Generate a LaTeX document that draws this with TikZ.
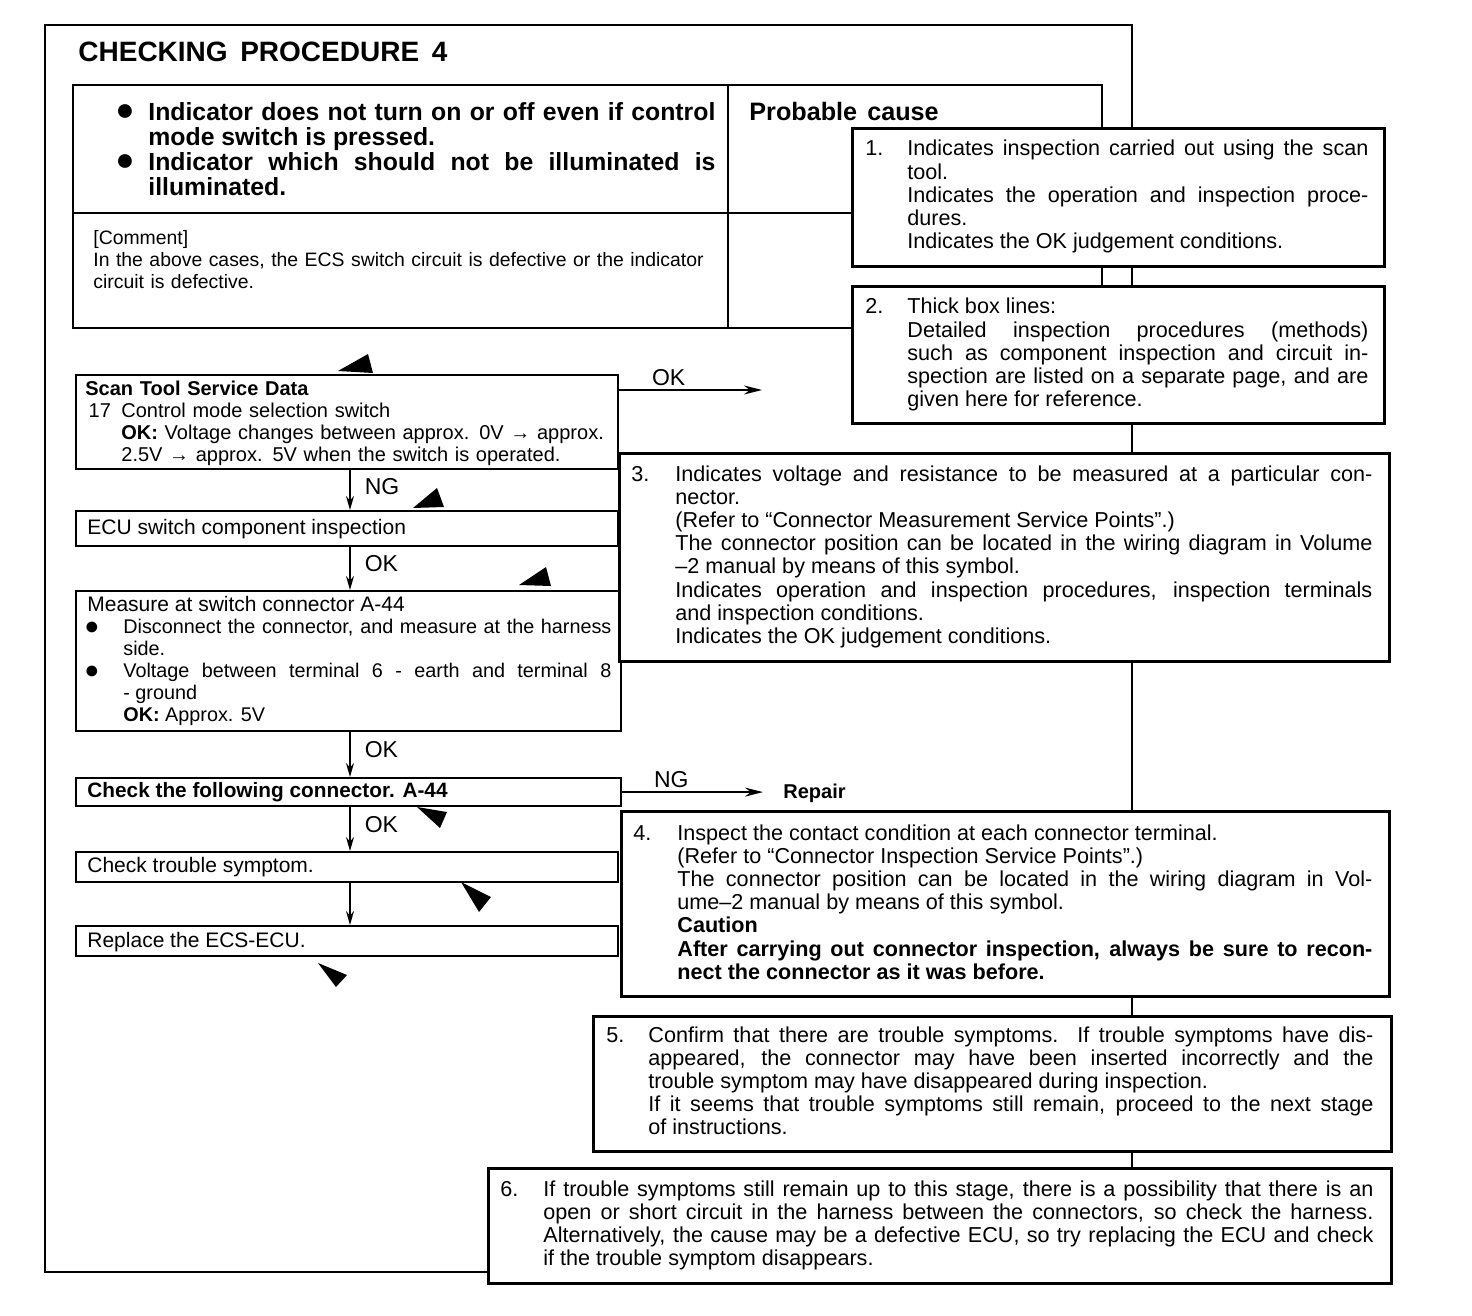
\documentclass[tikz,border=0pt]{standalone}
\usepackage{fontspec}
\setmainfont{Liberation Sans}
\usetikzlibrary{arrows.meta,positioning}
\newcommand\notefont{\fontsize{10.8}{11.6}\selectfont\tolerance=10000\relax}
\newcommand\flowfont{\fontsize{10}{11}\selectfont\tolerance=10000\relax}
\newcommand\measurefont{\fontsize{9.9}{11}\selectfont\tolerance=10000\relax}
\newcommand\symfont{\bfseries\fontsize{12.4}{12.5}\selectfont\tolerance=10000\relax}
\tikzset{
  frameline/.style={line width=1pt},
  gridline/.style={line width=1.2pt},
  flowbox/.style={draw,line width=1.1pt,fill=white,anchor=north west,inner sep=0pt},
  notebox/.style={draw,line width=1.5pt,fill=white,anchor=north west,inner sep=0pt},
  notenum/.style={anchor=base west,inner sep=0pt,font=\notefont},
  notetext/.style={anchor=base west,inner sep=0pt,align=justify,font=\notefont},
  flowtext/.style={anchor=base west,inner sep=0pt,align=left,font=\flowfont},
  onelinetext/.style={anchor=base west,inner sep=0pt,font={\fontsize{10.5}{11}\selectfont}},
  titletext/.style={anchor=base west,inner sep=0pt,font={\bfseries\fontsize{14}{14}\selectfont}},
  symtext/.style={anchor=base west,inner sep=0pt,align=justify,text width=283.5pt,font=\symfont},
  symdot/.style={inner sep=0pt,font={\fontsize{16}{16}\selectfont}},
  flowdot/.style={inner sep=0pt,font={\fontsize{12.5}{12.5}\selectfont}},
  flowarrow/.style={-{Stealth[length=7pt,width=4pt]},line width=0.8pt},
  longarrow/.style={-{Stealth[length=9pt,width=4.5pt]},line width=0.8pt},
  arrowlabel/.style={inner sep=0pt,anchor=west,xshift=7pt,font={\fontsize{11.5}{12}\selectfont}},
  pointer/.style={fill=black}
}
\begin{document}
\begin{tikzpicture}[x=0.5pt,y=-0.5pt]
\useasboundingbox (0,0) rectangle (1472,1316);
\draw[frameline] (45,25) rectangle (1132,1272);
\draw[gridline] (73,85) rectangle (1102,328);
\draw[gridline] (728,85) -- (728,328);
\draw[gridline] (73,213) -- (1102,213);
\node[titletext] (title) at (78,62) {CHECKING\hspace{0.45em}PROCEDURE\hspace{0.45em}4};
\node[symdot] (dot1) at (125,113) {●};
\node[symtext] (sym1) at (148,121) {Indicator does not turn on or off even if control\linebreak mode switch is pressed.};
\node[symdot] (dot2) at (125,163) {●};
\node[symtext] (sym2) at (148,171) {Indicator which should not be illuminated is\linebreak illuminated.};
\node[titletext,font={\bfseries\fontsize{12.6}{13}\selectfont}] (cause) at (749,121) {Probable\hspace{0.4em}cause};
\node[flowtext,text width=312pt,font={\fontsize{9.7}{11}\selectfont}] (comment) at (93,245) {[Comment]\\In the above cases, the ECS switch circuit is defective or the indicator\\circuit\ is\ defective.};

\node[flowbox,minimum width=271pt,minimum height=47pt] (scan) at (75,374) {};
\node[flowtext,text width=265pt] (scantext) at (85,395) {\textbf{Scan Tool Service Data}\\\makebox[18pt][l]{\,17}Control mode selection switch\\\hspace*{18pt}\textbf{OK:} Voltage changes between approx. 0V → approx.\\\hspace*{18pt}2.5V → approx. 5V when the switch is operated.};
\node[flowbox,minimum width=271pt,minimum height=17.5pt] (ecu) at (75,510) {};
\node[onelinetext] (ecutext) at (87,534) {ECU switch component inspection};
\node[flowbox,minimum width=272.5pt,minimum height=70pt] (measure) at (75,590) {};
\node[onelinetext] (measurehead) at (87,611) {Measure at switch connector A-44};
\node[flowdot] (dot3) at (92,628) {●};
\node[flowdot] (dot4) at (92,672) {●};
\node[flowtext,text width=244pt,align=justify,font=\measurefont] (measurebody) at (123,633) {Disconnect the connector, and measure at the harness\linebreak side.\\Voltage between terminal 6 - earth and terminal 8\linebreak - ground\\\textbf{OK:} Approx. 5V};
\node[flowbox,minimum width=272.5pt,minimum height=14pt] (conn) at (75,777) {};
\node[onelinetext,font={\bfseries\fontsize{10.4}{11}\selectfont}] (conntext) at (87,797) {Check the following connector. A-44};
\node[flowbox,minimum width=271pt,minimum height=15pt] (symptom) at (75,851) {};
\node[onelinetext] (symptomtext) at (87,872) {Check trouble symptom.};
\node[flowbox,minimum width=271pt,minimum height=15pt] (replace) at (75,925) {};
\node[onelinetext] (replacetext) at (87,947) {Replace the ECS-ECU.};

\draw[flowarrow] ([xshift=137.5pt]scan.south west) -- node[arrowlabel,pos=0.4]{NG} ([xshift=137.5pt]ecu.north west);
\draw[flowarrow] ([xshift=137.5pt]ecu.south west) -- node[arrowlabel,pos=0.38]{OK} ([xshift=137.5pt]measure.north west);
\draw[flowarrow] ([xshift=137.5pt]measure.south west) -- node[arrowlabel,pos=0.38]{OK} ([xshift=137.5pt]conn.north west);
\draw[flowarrow] ([xshift=137.5pt]conn.south west) -- node[arrowlabel,pos=0.39]{OK} ([xshift=137.5pt]symptom.north west);
\draw[flowarrow] ([xshift=137.5pt]symptom.south west) -- ([xshift=137.5pt]replace.north west);
\coordinate (okend) at (762,390);
\draw[longarrow] (scan.east |- okend) -- node[arrowlabel,pos=0,anchor=base west,xshift=9pt,yshift=2.5pt]{OK} (okend);
\node[onelinetext,font={\bfseries\fontsize{10}{11}\selectfont}] (repair) at (783,798) {Repair};
\draw[longarrow,shorten >=10pt] (conn.east) -- node[arrowlabel,pos=0,anchor=base west,xshift=8.5pt,yshift=2.5pt]{NG} (conn.east -| repair.west);

\node[notebox,minimum width=266pt,minimum height=69pt] (note1) at (851,127) {};
\node[notenum] (num1) at (865,156) {1.};
\node[notetext,text width=230.5pt] (text1) at (907,156) {Indicates inspection carried out using the scan\linebreak tool.\\Indicates the operation and inspection proce-\linebreak dures.\\Indicates the OK judgement conditions.};
\node[notebox,minimum width=266pt,minimum height=68.5pt] (note2) at (851,285) {};
\node[notenum] (num2) at (865,314) {2.};
\node[notetext,text width=230.5pt] (text2) at (907,314) {Thick box lines:\\Detailed inspection procedures (methods)\linebreak such as component inspection and circuit in-\linebreak spection are listed on a separate page, and are\linebreak given here for reference.};
\node[notebox,minimum width=385pt,minimum height=104pt] (note3) at (618,452) {};
\node[notenum] (num3) at (631,481) {3.};
\node[notetext,text width=348.5pt] (text3) at (675,481) {Indicates voltage and resistance to be measured at a particular con-\linebreak nector.\\(Refer to “Connector Measurement Service Points”.)\\The connector position can be located in the wiring diagram in Volume\linebreak –2 manual by means of this symbol.\\Indicates operation and inspection procedures, inspection terminals\linebreak and inspection conditions.\\Indicates the OK judgement conditions.};
\node[notebox,minimum width=384pt,minimum height=92.5pt] (note4) at (620,810) {};
\node[notenum] (num4) at (633,840) {4.};
\node[notetext,text width=347.5pt] (text4) at (677,840) {Inspect the contact condition at each connector terminal.\\(Refer to “Connector Inspection Service Points”.)\\The connector position can be located in the wiring diagram in Vol-\linebreak ume–2 manual by means of this symbol.\\\textbf{Caution}\\\textbf{After carrying out connector inspection, always be sure to recon-\linebreak nect the connector as it was before.}};
\node[notebox,minimum width=399pt,minimum height=67.5pt] (note5) at (592,1015) {};
\node[notenum] (num5) at (606,1042) {5.};
\node[notetext,text width=362.5pt] (text5) at (648,1042) {Confirm that there are trouble symptoms.\ \ If trouble symptoms have dis-\linebreak appeared, the connector may have been inserted incorrectly and the\linebreak trouble symptom may have disappeared during inspection.\\If it seems that trouble symptoms still remain, proceed to the next stage\linebreak of instructions.};
\node[notebox,minimum width=451.5pt,minimum height=57.5pt] (note6) at (487,1167) {};
\node[notenum] (num6) at (500,1196) {6.};
\node[notetext,text width=415pt] (text6) at (543,1196) {If trouble symptoms still remain up to this stage, there is a possibility that there is an\linebreak open or short circuit in the harness between the connectors, so check the harness.\linebreak Alternatively, the cause may be a defective ECU, so try replacing the ECU and check\linebreak if the trouble symptom disappears.};

\fill[pointer] (338,371) -- (373,373) -- (368,354) -- cycle;
\fill[pointer] (413,508) -- (444,507) -- (437,488) -- cycle;
\fill[pointer] (519,585) -- (551,586) -- (546,567) -- cycle;
\fill[pointer] (417,807) -- (447,812) -- (440,828) -- cycle;
\fill[pointer] (461,882) -- (491,897) -- (479,912) -- cycle;
\fill[pointer] (318,963) -- (347,975) -- (336,987) -- cycle;
\end{tikzpicture}
\end{document}
